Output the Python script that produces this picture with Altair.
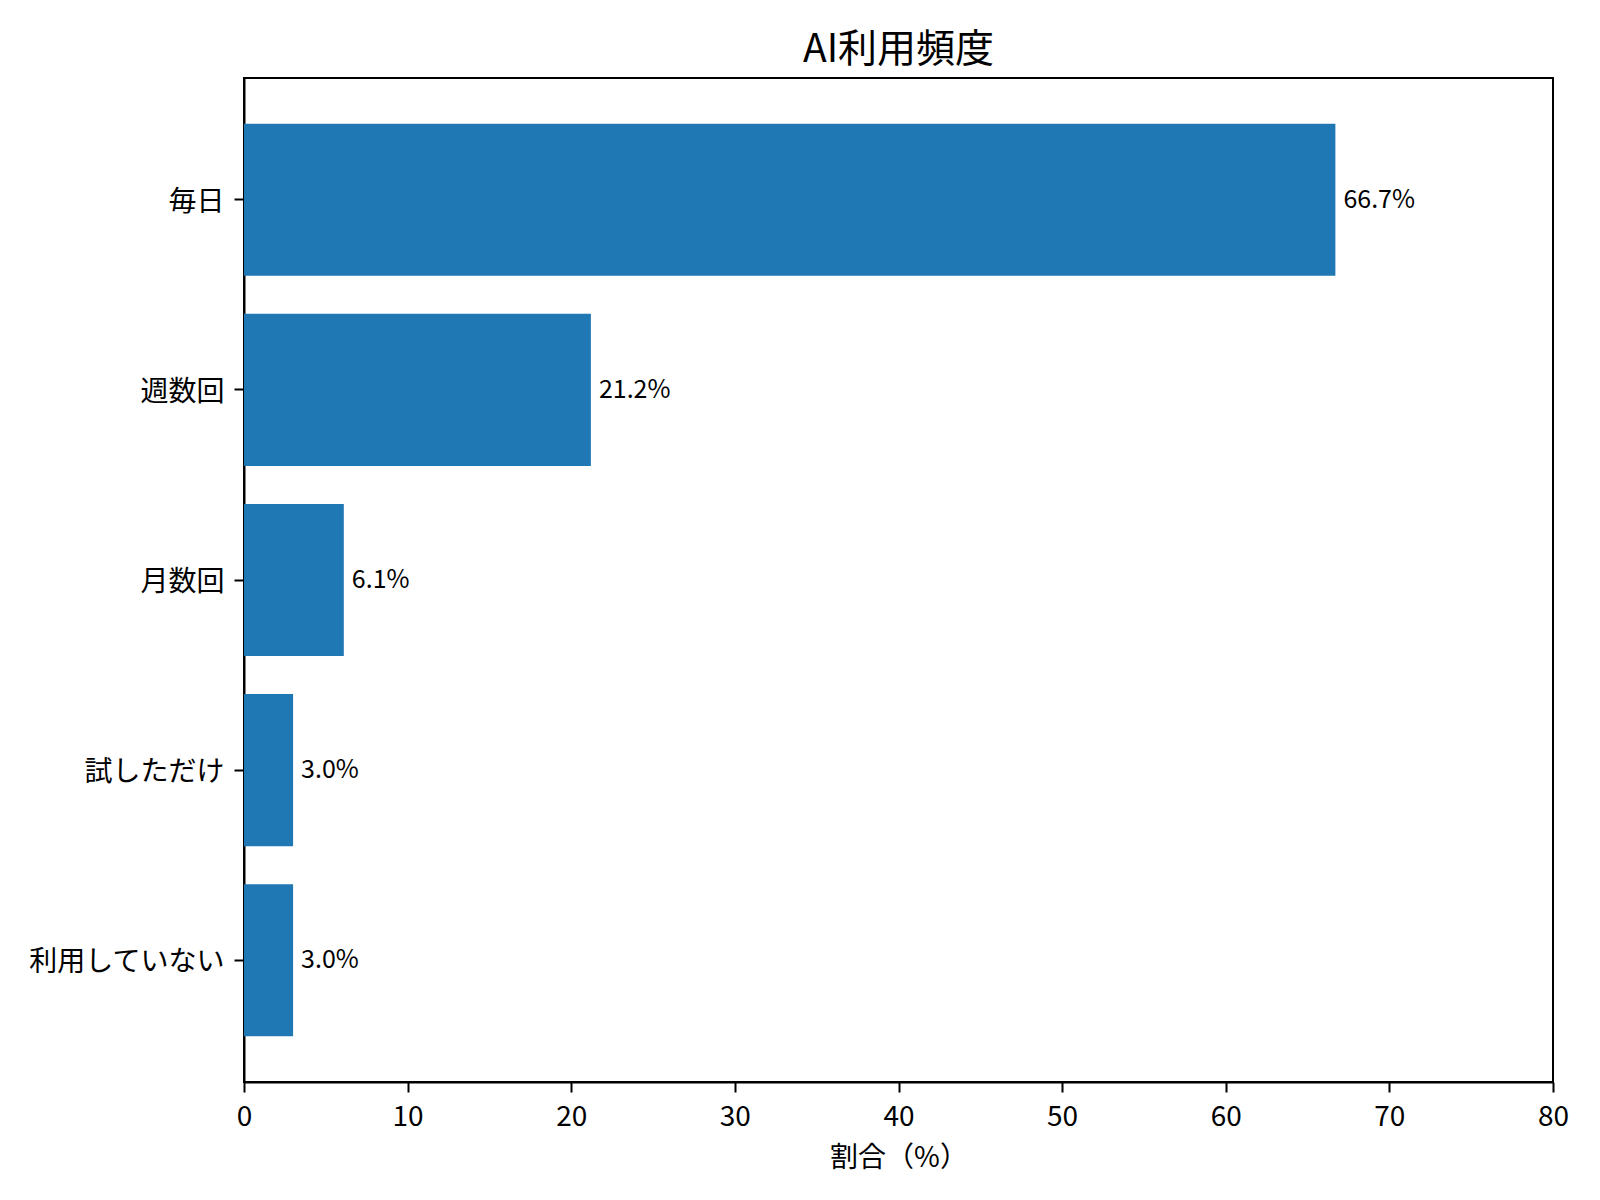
import altair as alt
import pandas as pd

categories = ["毎日", "週数回", "月数回", "試しただけ", "利用していない"]
values = [66.7, 21.2, 6.1, 3.0, 3.0]

df = pd.DataFrame({"cat": categories, "val": values})

FONT = "Noto Sans CJK JP"

base = alt.Chart(df).encode(
    y=alt.Y(
        "cat:N",
        sort=categories,
        scale=alt.Scale(domain=categories, paddingInner=0.2, paddingOuter=0.24),
        axis=alt.Axis(
            title=None,
            labelFont=FONT,
            labelFontSize=28,
            labelColor="black",
            labelPadding=10,
            labelLimit=500,
            labelOffset=3,
            tickColor="black",
            tickWidth=2,
            tickSize=10,
            domain=True,
            domainColor="black",
            domainWidth=2,
            grid=False,
        ),
    ),
)

bars = base.mark_bar(color="#1f77b4").encode(
    x=alt.X(
        "val:Q",
        scale=alt.Scale(domain=[0, 80], nice=False, zero=True),
        axis=alt.Axis(
            title="割合（%）",
            values=[0, 10, 20, 30, 40, 50, 60, 70, 80],
            titleFont=FONT,
            titleFontSize=28,
            titleFontWeight="normal",
            titleColor="black",
            titlePadding=13,
            labelFont=FONT,
            labelFontSize=28,
            labelColor="black",
            labelPadding=11,
            labelFlush=False,
            tickColor="black",
            tickWidth=2,
            tickSize=10,
            domain=True,
            domainColor="black",
            domainWidth=2,
            grid=False,
        ),
    ),
)

labels = base.transform_calculate(
    lab="format(datum.val, '.1f') + '%'"
).mark_text(
    align="left", baseline="middle", dx=8, font=FONT, fontSize=25, color="black"
).encode(
    x=alt.X("val:Q"),
    text="lab:N",
)

chart = (
    alt.layer(bars, labels)
    .properties(
        width=1309,
        height=1004,
        title=alt.TitleParams(
            "AI利用頻度",
            font=FONT,
            fontSize=39,
            fontWeight="normal",
            color="black",
            anchor="middle",
            offset=8,
        ),
        padding={"left": 236, "top": 70, "right": 30, "bottom": 100},
        autosize=alt.AutoSizeParams(type="none"),
        background="white",
    )
    .configure_view(stroke="#000000", strokeWidth=2, strokeOpacity=1)
)

chart.save("out.html", embed_options={"renderer": "svg", "actions": False})
